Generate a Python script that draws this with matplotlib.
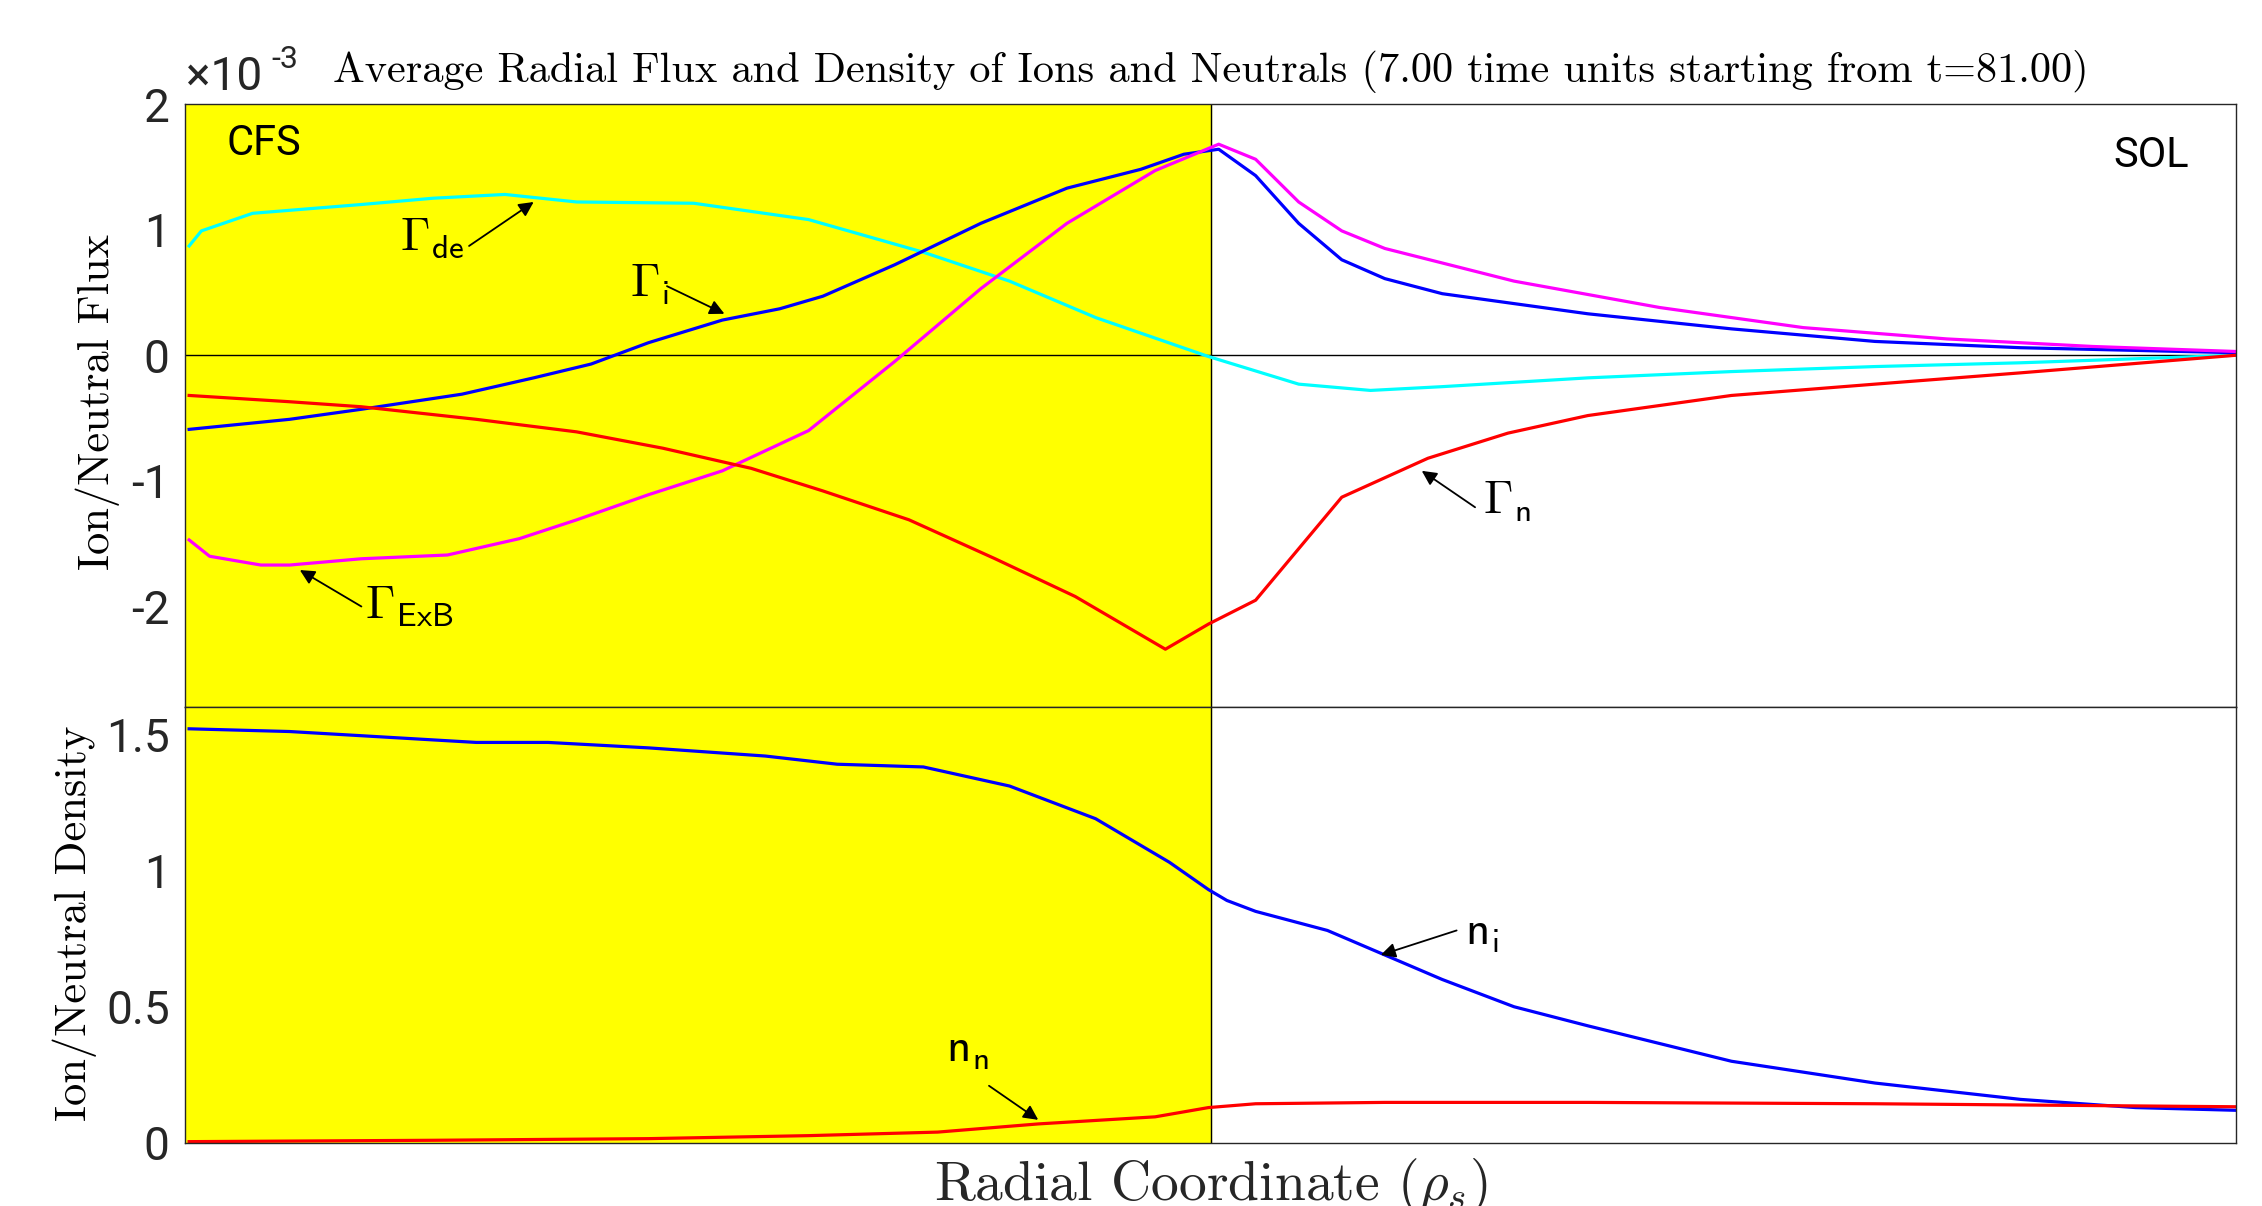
import numpy as np
import matplotlib
matplotlib.use('Agg')
import matplotlib.pyplot as plt

plt.rcParams['mathtext.fontset'] = 'cm'
plt.rcParams['font.family'] = ['Roboto', 'DejaVu Sans']

# radial coordinate (arbitrary units, no ticks shown), CFS/SOL boundary
x_sep = 50.0

# fluxes, in units of 1e-3
x_de = [0.2, 0.8, 3.3, 8.6, 12.1, 15.6, 19.1, 24.8, 30.4, 36.0, 40.2, 44.4, 49.9,
        54.3, 57.8, 61.3, 68.4, 75.4, 82.4, 89.5, 100]
g_de = [0.87, 0.99, 1.13, 1.20, 1.25, 1.28, 1.22, 1.21, 1.08, 0.82, 0.59, 0.30, -0.01,
        -0.23, -0.28, -0.25, -0.18, -0.13, -0.09, -0.06, 0.0]

x_i = [0.2, 5.1, 8.6, 13.5, 17.0, 19.8, 22.6, 26.2, 29.0, 31.1, 34.6, 38.8, 43.0,
       46.6, 48.7, 50.4, 52.2, 54.3, 56.4, 58.5, 61.3, 68.4, 75.4, 82.4, 89.5, 100]
g_i = [-0.59, -0.51, -0.43, -0.31, -0.18, -0.07, 0.10, 0.28, 0.37, 0.47, 0.72, 1.05, 1.33,
       1.48, 1.60, 1.64, 1.43, 1.05, 0.76, 0.61, 0.49, 0.33, 0.21, 0.11, 0.06, 0.02]

x_exb = [0.2, 1.2, 3.7, 5.1, 8.6, 12.8, 16.3, 19.1, 22.6, 26.2, 30.4, 34.6, 38.8,
         43.0, 47.3, 50.4, 52.2, 54.3, 56.4, 58.5, 64.8, 71.9, 78.9, 85.9, 93.0, 100]
g_exb = [-1.47, -1.60, -1.67, -1.67, -1.62, -1.59, -1.46, -1.31, -1.11, -0.92, -0.60, -0.05, 0.53,
         1.05, 1.47, 1.68, 1.56, 1.22, 0.99, 0.85, 0.59, 0.38, 0.22, 0.13, 0.07, 0.03]

x_n = [0.2, 5.1, 8.6, 14.2, 19.1, 23.3, 27.6, 31.1, 35.3, 39.5, 43.4, 47.8, 49.9,
       52.2, 56.4, 60.6, 64.5, 68.4, 75.4, 82.4, 89.5, 100]
g_n = [-0.32, -0.37, -0.41, -0.51, -0.61, -0.74, -0.90, -1.08, -1.31, -1.62, -1.92, -2.34, -2.14,
       -1.95, -1.13, -0.82, -0.62, -0.48, -0.32, -0.23, -0.14, 0.0]

# densities
x_ni = [0.2, 5.1, 14.2, 17.7, 22.6, 28.3, 31.8, 36.0, 40.2, 44.4, 48.0, 49.9, 50.8, 52.2,
        55.7, 58.5, 61.3, 64.8, 68.4, 75.4, 82.4, 89.5, 95.1, 100]
n_i = [1.52, 1.51, 1.47, 1.47, 1.45, 1.42, 1.39, 1.38, 1.31, 1.19, 1.03, 0.93, 0.89, 0.85,
       0.78, 0.69, 0.60, 0.50, 0.43, 0.30, 0.22, 0.16, 0.13, 0.12]

x_nn = [0.2, 12.1, 22.6, 30.4, 36.7, 41.6, 47.3, 49.9, 52.2, 58.5, 68.4, 82.4, 100]
n_n = [0.005, 0.01, 0.016, 0.027, 0.04, 0.07, 0.096, 0.13, 0.144, 0.149, 0.149, 0.144, 0.133]

flux_ticks = [-2, -1, 0, 1, 2]
dens_ticks = [0, 0.5, 1, 1.5]

W, H = 2262, 1206
fig = plt.figure(figsize=(W / 100, H / 100), dpi=100)
left, right = 185 / W, 2236 / W
top_ax = fig.add_axes([left, 1 - 707 / H, right - left, (707 - 104) / H])
bot_ax = fig.add_axes([left, 1 - 1143 / H, right - left, (1143 - 707) / H])

tick_col = '#262626'
lw = 2.3
for ax in (top_ax, bot_ax):
    ax.axvspan(0, x_sep, color='#ffff00', zorder=0)
    ax.axvline(x_sep, color='k', lw=1.0, zorder=1)
    ax.set_xlim(0, 100)
    ax.set_xticks([])
    ax.tick_params(axis='y', length=0, labelsize=33, colors=tick_col, pad=11)
    for s in ax.spines.values():
        s.set_color(tick_col)
        s.set_linewidth(1.0)

top_ax.axhline(0, color='k', lw=1.0, zorder=1)
top_ax.plot(x_de, g_de, color='#00ffff', lw=lw)
top_ax.plot(x_i, g_i, color='#0000ff', lw=lw)
top_ax.plot(x_exb, g_exb, color='#ff00ff', lw=lw)
top_ax.plot(x_n, g_n, color='#ff0000', lw=lw)
top_ax.set_ylim(-2.8, 2)
top_ax.set_yticks(flux_ticks)
top_ax.set_yticklabels([str(t) for t in flux_ticks])

bot_ax.plot(x_ni, n_i, color='#0000ff', lw=lw)
bot_ax.plot(x_nn, n_n, color='#ff0000', lw=lw)
bot_ax.set_ylim(0, 1.6)
bot_ax.set_yticks(dens_ticks)
bot_ax.set_yticklabels(['0', '0.5', '1', '1.5'])

lab_font = dict(family='cmr10', size=32, rotation=90, ha='center', va='center')
fig.text(98 / W, 1 - 402 / H, 'Ion/Neutral Flux', **lab_font)
fig.text(75 / W, 1 - 923 / H, 'Ion/Neutral Density', **lab_font)

xc = (left + right) / 2
fig.text(xc, 1 - 82 / H, 'Average Radial Flux and Density of Ions and Neutrals '
         '(7.00 time units starting from t=81.00)', ha='center', va='baseline',
         family='cmr10', size=30.5)
fig.text(xc, 6 / H, r'Radial Coordinate ($\rho_s$)', ha='center', va='baseline',
         family='cmr10', size=40, color=tick_col)

# exponent of the flux axis
fig.text(186 / W, 1 - 90 / H, '×10', ha='left', va='baseline', size=33, color=tick_col)
fig.text(271 / W, 1 - 68 / H, '-3', ha='left', va='baseline', size=23, color=tick_col)

top_ax.text(0.02, 0.935, 'CFS', transform=top_ax.transAxes, ha='left', va='center', size=30)
top_ax.text(0.977, 0.915, 'SOL', transform=top_ax.transAxes, ha='right', va='center', size=30)

arr = dict(arrowstyle='-|>', color='k', lw=1.3, mutation_scale=22, shrinkA=0, shrinkB=0)

def label(ax, txt, tx, ty, tail, head):
    ax.text(tx, ty, txt, ha='left', va='center', size=34)
    ax.annotate('', xy=head, xytext=tail, arrowprops=arr)

label(top_ax, r'$\Gamma_{\mathsf{de}}$', 10.5, 0.93, (13.85, 0.87), (17.0, 1.22))
label(top_ax, r'$\Gamma_{\mathsf{i}}$', 21.7, 0.56, (23.5, 0.55), (26.3, 0.33))
label(top_ax, r'$\Gamma_{\mathsf{ExB}}$', 8.8, -2.0, (8.6, -2.0), (5.6, -1.71))
label(top_ax, r'$\Gamma_{\mathsf{n}}$', 63.3, -1.17, (62.9, -1.21), (60.3, -0.92))
label(bot_ax, r'$\mathsf{n_{i}}$', 62.4, 0.77, (62.0, 0.78), (58.3, 0.69))
label(bot_ax, r'$\mathsf{n_{n}}$', 37.1, 0.34, (39.2, 0.21), (41.6, 0.085))

fig.savefig('out.png', dpi=100)
